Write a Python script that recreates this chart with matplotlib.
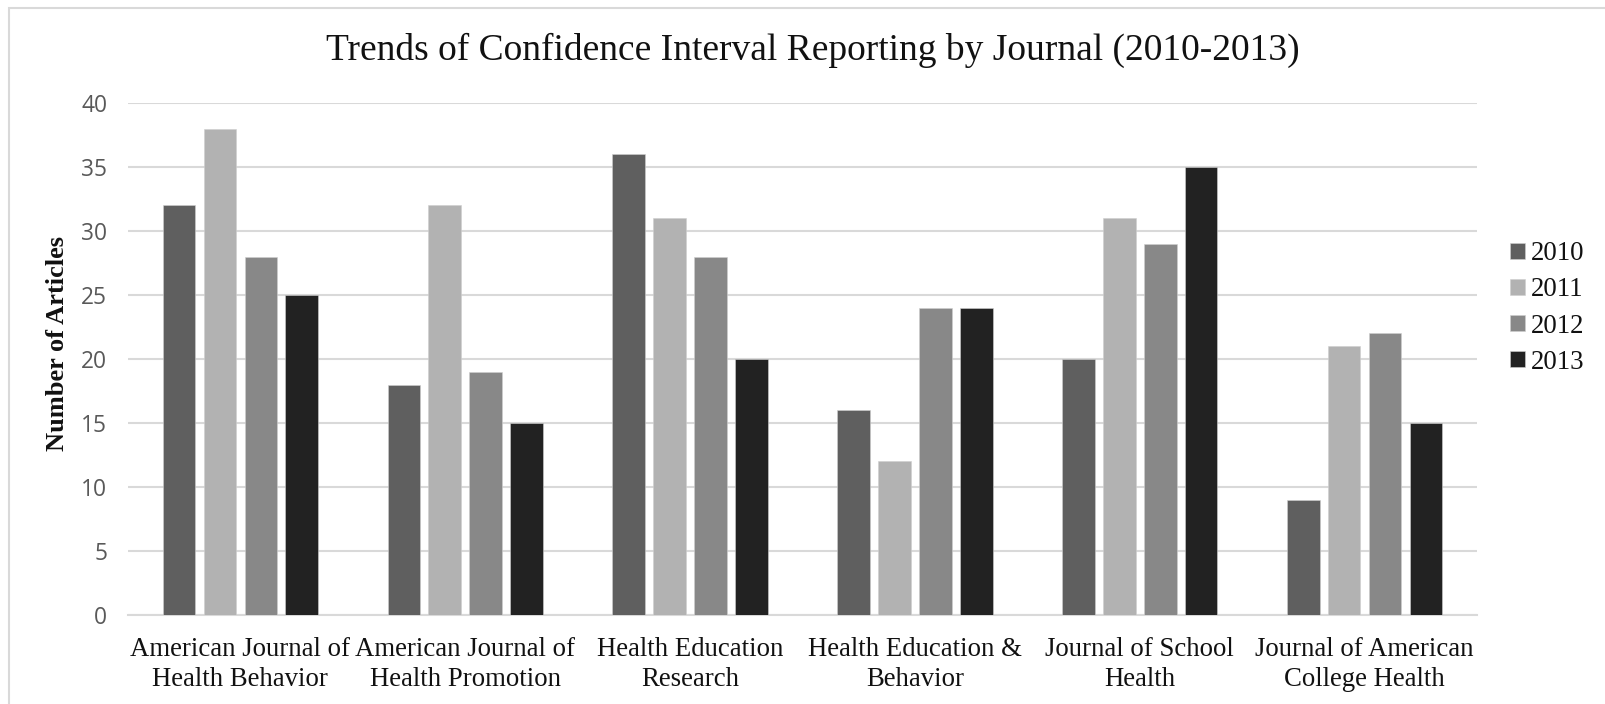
import matplotlib
matplotlib.use("Agg")
import matplotlib.pyplot as plt
import numpy as np
from matplotlib.patches import Rectangle

journals = ["American Journal of\nHealth Behavior", "American Journal of\nHealth Promotion",
            "Health Education\nResearch", "Health Education &\nBehavior",
            "Journal of School\nHealth", "Journal of American\nCollege Health"]
years = ["2010", "2011", "2012", "2013"]
v2010 = [32, 18, 36, 16, 20, 9]
v2011 = [38, 32, 31, 12, 31, 21]
v2012 = [28, 19, 28, 24, 29, 22]
v2013 = [25, 15, 20, 24, 35, 15]
series = [v2010, v2011, v2012, v2013]
colors = ["#5f5f5f", "#b2b2b2", "#888888", "#222222"]

serif = ["Liberation Serif", "DejaVu Serif"]
W, H = 1606, 704

fig = plt.figure(figsize=(W / 100, H / 100), dpi=100)
fig.patches.append(Rectangle((8.5 / W, -0.1), 1.2, 1 - 7.5 / H + 0.1, transform=fig.transFigure,
                             fill=False, edgecolor="#d9d9d9", linewidth=1.5))
ax = fig.add_axes([128 / W, 1 - 615 / H, (1477 - 128) / W, (615 - 103) / H])

x = np.arange(len(journals))
slot = 0.182
width = 0.145
for i, (vals, c, y) in enumerate(zip(series, colors, years)):
    ax.bar(x + (i - 1.5) * slot, vals, width=width, color=c, label=y, zorder=3,
           edgecolor="#cfcfcf", linewidth=0.4)

ax.set_xlim(-0.5, len(journals) - 0.5)
ax.set_ylim(0, 40)
ax.set_yticks(range(0, 41, 5))
ax.yaxis.grid(True, color="#d9d9d9", linewidth=1.5, zorder=0)
ax.set_axisbelow(True)
for s in ["top", "right", "left"]:
    ax.spines[s].set_visible(False)
ax.spines["bottom"].set_color("#d9d9d9")
ax.spines["bottom"].set_linewidth(1.5)
ax.tick_params(axis="both", length=0)
ax.tick_params(axis="y", pad=15, labelsize=16.4, labelcolor="#595959")
for lbl in ax.get_yticklabels():
    lbl.set_fontfamily(["Open Sans", "DejaVu Sans"])
ax.set_xticks(x)
ax.set_xticklabels(journals, fontfamily=serif, fontsize=19.3, color="#111111", linespacing=1.26)
ax.tick_params(axis="x", pad=16)

fig.text(58 / W, 1 - 343 / H, "Number of Articles", rotation=90, ha="center", va="center",
         fontfamily=serif, fontsize=19, fontweight="bold", color="#111111")
fig.text(813 / W, 1 - 50 / H, "Trends of Confidence Interval Reporting by Journal (2010-2013)",
         ha="center", va="center", fontfamily=serif, fontsize=27, color="#111111")

leg = ax.legend(loc="center left", bbox_to_anchor=(1510 / W, 1 - 308 / H),
                bbox_transform=fig.transFigure, frameon=False, borderpad=0, borderaxespad=0,
                prop={"family": serif, "size": 19.3}, handlelength=0.55, handleheight=0.55,
                handletextpad=0.22, labelspacing=0.42)
for t in leg.get_texts():
    t.set_color("#111111")

fig.savefig("out.png", dpi=100, facecolor="white")
